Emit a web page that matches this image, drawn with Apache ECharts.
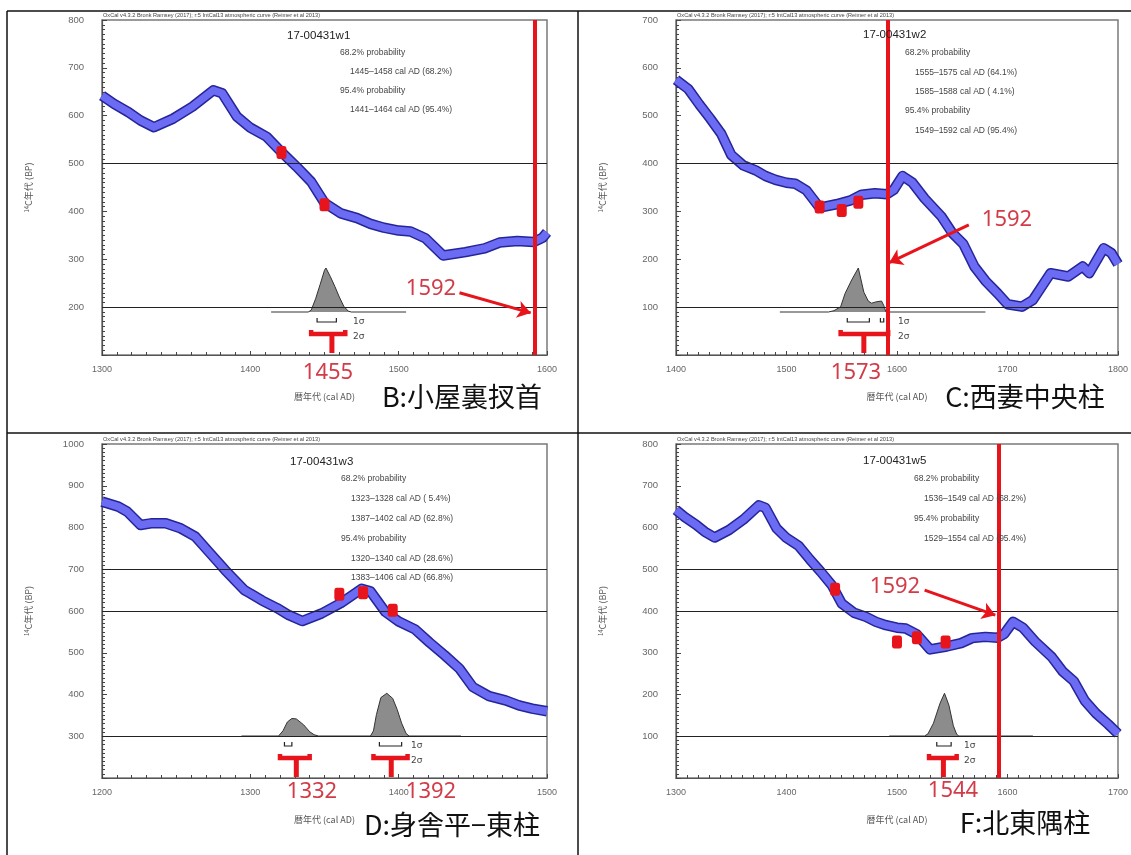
<!DOCTYPE html>
<html>
<head>
<meta charset="utf-8">
<script src="https://cdn.jsdelivr.net/npm/echarts@6/dist/echarts.min.js"></script>
<style>
  html, body { margin: 0; padding: 0; background: #fff; }
  #chart { width: 1131px; height: 855px; }
</style>
</head>
<body>
<div id="chart"></div>
<script>
// IntCal13 較正曲線 (西暦, 14C BP) — 図から読み取り
const calCurve = [
  [1200, 862], [1211, 850], [1217, 838], [1226, 806], [1233, 810], [1243, 810], [1253, 798],
  [1263, 778], [1273, 738], [1283, 698], [1296, 650], [1300, 642], [1308, 625], [1318, 607],
  [1326, 590], [1335, 576], [1348, 594], [1361, 619], [1375, 653], [1381, 647], [1391, 598],
  [1400, 575], [1411, 556], [1421, 524], [1431, 494], [1441, 462], [1450, 418], [1461, 396],
  [1472, 386], [1481, 374], [1490, 366], [1500, 360], [1508, 358], [1518, 344], [1530, 308],
  [1545, 315], [1558, 323], [1568, 335], [1580, 338], [1591, 336], [1597, 345], [1600, 356],
  [1605, 374], [1614, 360], [1625, 327], [1640, 290], [1650, 255], [1660, 232], [1670, 185],
  [1680, 155], [1691, 129], [1700, 106], [1713, 101], [1723, 115], [1739, 171], [1755, 164],
  [1768, 185], [1774, 171], [1787, 223], [1794, 213], [1800, 190]
]

// 測定点 (ウィグルマッチ)
const ptsB = [[1421, 523], [1450, 414]]
const ptsC = [[1530, 309], [1550, 302], [1565, 319]]
const ptsD = [[1360, 640], [1376, 644], [1396, 602]]
const ptsF = [[1444, 452], [1500, 326], [1518, 336], [1544, 326]]

// 確率分布 (相対値)
const probB = [[1414, 0], [1439, 0], [1441, 0.04], [1444, 0.3], [1447, 0.62], [1450, 0.95], [1451, 1],
  [1454, 0.8], [1457, 0.58], [1460, 0.34], [1463, 0.13], [1466, 0.02], [1468, 0], [1505, 0]]
const probC = [[1494, 0], [1538, 0], [1543, 0.03], [1549, 0.12], [1553, 0.42], [1559, 0.73], [1565, 1],
  [1570, 0.45], [1574, 0.25], [1577, 0.2], [1581, 0.23], [1586, 0.25], [1588, 0.15], [1590, 0], [1680, 0]]
const probD = [[1294, 0], [1319, 0], [1322, 0.12], [1325, 0.33], [1328, 0.41], [1331, 0.4], [1336, 0.26],
  [1340, 0.1], [1343, 0.03], [1346, 0], [1381, 0], [1383, 0.12], [1385, 0.5], [1388, 0.9], [1392, 1],
  [1396, 0.88], [1399, 0.62], [1402, 0.3], [1405, 0.06], [1407, 0], [1442, 0]]
const probF = [[1493, 0], [1525, 0], [1528, 0.05], [1533, 0.3], [1539, 0.77], [1543, 1], [1547, 0.72],
  [1551, 0.24], [1554, 0.04], [1556, 0], [1623, 0]]

// 1σ / 2σ 範囲
const sig1B = [[1445, 1458]]
const sig2B = [[1441, 1464]]
const sig1C = [[1555, 1575], [1585, 1588]]
const sig2C = [[1549, 1592]]
const sig1D = [[1323, 1328], [1387, 1402]]
const sig2D = [[1320, 1340], [1383, 1406]]
const sig1F = [[1536, 1549]]
const sig2F = [[1529, 1554]]
const stemB = [1455]
const stemC = [1570]
const stemD = [1331, 1395]
const stemF = [1542]

// 横線 (BP)
const hLinesB = [500, 200]
const hLinesC = [400, 100]
const hLinesD = [700, 600, 300]
const hLinesF = [500, 400, 100]

const felled = 1592
// 矢印 [始点, 終点]
const arrowB = [[1541, 230], [1589, 188]]
const arrowC = [[1665, 272], [1593, 193]]
const arrowF = [[1525, 450], [1589, 390]]

const labels = ['17-00431w1', '17-00431w2', '17-00431w3', '17-00431w5']
const infoB = ['68.2% probability', '1445–1458 cal AD (68.2%)', '95.4% probability', '1441–1464 cal AD (95.4%)']
const infoC = ['68.2% probability', '1555–1575 cal AD (64.1%)', '1585–1588 cal AD ( 4.1%)', '95.4% probability', '1549–1592 cal AD (95.4%)']
const infoD = ['68.2% probability', '1323–1328 cal AD ( 5.4%)', '1387–1402 cal AD (62.8%)', '95.4% probability',
  '1320–1340 cal AD (28.6%)', '1383–1406 cal AD (66.8%)']
const infoF = ['68.2% probability', '1536–1549 cal AD (68.2%)', '95.4% probability', '1529–1554 cal AD (95.4%)']
const titles = ['B:小屋裏扠首', 'C:西妻中央柱', 'D:身舎平−東柱', 'F:北東隅柱']
const header = 'OxCal v4.3.2 Bronk Ramsey (2017); r:5 IntCal13 atmospheric curve (Reimer et al 2013)'

const RED = '#e8141c'
const RED_TXT = '#d23c48'

const panels = [
  { left: 102, top: 20, h: 335, xMin: 1300, xMax: 1600, yMin: 100, yMax: 800, base: 312, unit: 44,
    pts: ptsB, prob: probB, sig1: sig1B, sig2: sig2B, stems: stemB, hLines: hLinesB, arrow: arrowB,
    info: infoB, lab: [287, 36], inf: [340, 53, 19], sigTxt: 353,
    years: [[328, 373, '1455']], felledTxt: [431, 289], title: [462, 397] },
  { left: 676, top: 20, h: 335, xMin: 1400, xMax: 1800, yMin: 0, yMax: 700, base: 312, unit: 44,
    pts: ptsC, prob: probC, sig1: sig1C, sig2: sig2C, stems: stemC, hLines: hLinesC, arrow: arrowC,
    info: infoC, lab: [863, 35], inf: [905, 53, 19.3], sigTxt: 898,
    years: [[856, 373, '1573']], felledTxt: [1007, 220], title: [1025, 397] },
  { left: 102, top: 444, h: 334, xMin: 1200, xMax: 1500, yMin: 200, yMax: 1000, base: 736, unit: 42.7,
    pts: ptsD, prob: probD, sig1: sig1D, sig2: sig2D, stems: stemD, hLines: hLinesD, arrow: null,
    info: infoD, lab: [290, 462], inf: [341, 479, 19.8], sigTxt: 411,
    years: [[312, 792, '1332'], [431, 792, '1392']], felledTxt: null, title: [452, 825] },
  { left: 676, top: 444, h: 334, xMin: 1300, xMax: 1700, yMin: 0, yMax: 800, base: 736, unit: 42.7,
    pts: ptsF, prob: probF, sig1: sig1F, sig2: sig2F, stems: stemF, hLines: hLinesF, arrow: arrowF,
    info: infoF, lab: [863, 461], inf: [914, 479, 20], sigTxt: 964,
    years: [[953, 791, '1544']], felledTxt: [895, 587], title: [1025, 823] }
]

function renderBracket(params, api) {
  const a = api.coord([api.value(0), 0])
  const b = api.coord([api.value(1), 0])
  const kind = api.value(2)
  if (kind === 1) {
    const y = a[1] + 10
    return { type: 'polyline', shape: { points: [[a[0], y - 4], [a[0], y], [b[0], y], [b[0], y - 4]] },
      style: { stroke: '#222', lineWidth: 1.2, fill: null } }
  }
  if (kind === 2) {
    const y = a[1] + 22
    return { type: 'polyline', shape: { points: [[a[0], y - 4], [a[0], y], [b[0], y], [b[0], y - 4]] },
      style: { stroke: RED, lineWidth: 4.5, fill: null } }
  }
  return { type: 'line', shape: { x1: a[0], y1: a[1] + 22, x2: a[0], y2: a[1] + 41 },
    style: { stroke: RED, lineWidth: 5 } }
}

const grid = [], xAxis = [], yAxis = [], series = [], graphic = []
const plain = v => String(v)

panels.forEach((p, i) => {
  grid.push({ left: p.left, top: p.top, width: 445, height: p.h, show: true,
    borderColor: '#7a7a7a', borderWidth: 1.5 })

  xAxis.push({
    type: 'value', gridIndex: i, min: p.xMin, max: p.xMax, interval: 100,
    axisLine: { show: true, onZero: false, lineStyle: { color: '#555', width: 1.2 } },
    axisTick: { show: true, inside: true, length: 4, lineStyle: { color: '#444' } },
    minorTick: { show: true, splitNumber: 10, length: 3, lineStyle: { color: '#444' } },
    splitLine: { show: false },
    axisLabel: { fontSize: 9, color: '#666', margin: 10, fontFamily: 'Liberation Sans', formatter: plain },
    name: '暦年代 (cal AD)', nameLocation: 'middle', nameGap: 37,
    nameTextStyle: { fontSize: 9, color: '#555', fontFamily: 'Noto Sans CJK JP' }
  })

  yAxis.push({
    type: 'value', gridIndex: i, min: p.yMin, max: p.yMax, interval: 100,
    axisLine: { show: true, lineStyle: { color: '#555', width: 1.2 } },
    axisTick: { show: true, inside: true, length: 5, lineStyle: { color: '#444' } },
    minorTick: { show: true, splitNumber: 10, length: 3, lineStyle: { color: '#444' } },
    splitLine: { show: false },
    axisLabel: { fontSize: 9.5, color: '#666', margin: 18, showMinLabel: false,
      fontFamily: 'Liberation Sans', formatter: plain },
    name: '{s|14}C年代 (BP)', nameLocation: 'middle', nameRotate: 90, nameGap: 68,
    nameTextStyle: { fontSize: 9, color: '#555', fontFamily: 'Noto Sans CJK JP',
      rich: { s: { fontSize: 6, color: '#555', verticalAlign: 'top', padding: [0, 0, 4, 0] } } }
  })
  yAxis.push({
    type: 'value', gridIndex: i, show: false, splitLine: { show: false },
    min: -(p.top + p.h - p.base) / p.unit, max: (p.base - p.top) / p.unit
  })

  const xi = i, yi = 2 * i, pi = 2 * i + 1
  const curve = calCurve.filter(d => d[0] >= p.xMin && d[0] <= p.xMax)

  series.push({
    type: 'line', xAxisIndex: xi, yAxisIndex: yi, data: curve, symbol: 'none', z: 2,
    lineStyle: { width: 10.5, color: '#25259a', join: 'round', cap: 'butt' },
    markLine: { silent: true, symbol: 'none', label: { show: false },
      lineStyle: { color: '#222', width: 1, type: 'solid' },
      data: p.hLines.map(v => ({ yAxis: v })) }
  })
  series.push({
    type: 'line', xAxisIndex: xi, yAxisIndex: yi, data: curve, symbol: 'none', z: 3,
    lineStyle: { width: 7.5, color: '#6b6bf3', join: 'round', cap: 'butt' }
  })
  series.push({
    type: 'line', xAxisIndex: xi, yAxisIndex: pi, data: p.prob, symbol: 'none', z: 4,
    lineStyle: { width: 1, color: '#333' },
    areaStyle: { color: '#8c8c8c', opacity: 1 }
  })
  const bracketData = []
  p.sig1.forEach(r => bracketData.push([r[0], r[1], 1]))
  p.sig2.forEach(r => bracketData.push([r[0], r[1], 2]))
  p.stems.forEach(y => bracketData.push([y, y, 3]))
  series.push({
    type: 'custom', xAxisIndex: xi, yAxisIndex: pi, data: bracketData, z: 6,
    encode: { x: [0, 1], y: 2 }, renderItem: renderBracket
  })

  const redLines = [{ xAxis: felled, lineStyle: { color: RED, width: 4, type: 'solid' } }]
  if (p.arrow) {
    redLines.push([
      { coord: p.arrow[0], symbol: 'none' },
      { coord: p.arrow[1], symbol: 'arrow', symbolSize: 13, lineStyle: { color: RED, width: 3, type: 'solid' } }
    ])
  }
  series.push({
    type: 'scatter', xAxisIndex: xi, yAxisIndex: yi, data: p.pts, z: 10,
    symbol: 'roundRect', symbolSize: [10, 13], itemStyle: { color: RED, opacity: 1 },
    markLine: { silent: true, symbol: 'none', label: { show: false },
      lineStyle: { color: RED, width: 3, type: 'solid' }, data: redLines }
  })

  // texts
  graphic.push({ type: 'text', left: p.left + 1, top: p.top - 8, z: 20,
    style: { text: header, fontSize: 5.6, fill: '#444', fontFamily: 'Liberation Sans' } })
  graphic.push({ type: 'text', x: p.lab[0], y: p.lab[1], z: 20,
    style: { text: labels[i], fontSize: 11.5, fill: '#222', fontFamily: 'Liberation Sans', verticalAlign: 'middle' } })
  p.info.forEach((t, k) => {
    const indent = /^\d{4}/.test(t) ? 10 : 0
    graphic.push({ type: 'text', x: p.inf[0] + indent, y: p.inf[1] + k * p.inf[2], z: 20,
      style: { text: t, fontSize: 8.5, fill: '#444', fontFamily: 'Liberation Sans', verticalAlign: 'middle' } })
  })
  graphic.push({ type: 'text', x: p.sigTxt, y: p.base + 10, z: 20,
    style: { text: '1σ', fontSize: 9, fill: '#444', fontFamily: 'DejaVu Sans', verticalAlign: 'middle' } })
  graphic.push({ type: 'text', x: p.sigTxt, y: p.base + 25, z: 20,
    style: { text: '2σ', fontSize: 9, fill: '#444', fontFamily: 'DejaVu Sans', verticalAlign: 'middle' } })
  p.years.forEach(yv => {
    graphic.push({ type: 'text', x: yv[0], y: yv[1], z: 20,
      style: { text: yv[2], fontSize: 22, fill: RED_TXT, fontFamily: 'Noto Sans', align: 'center', verticalAlign: 'middle' } })
  })
  if (p.felledTxt) {
    graphic.push({ type: 'text', x: p.felledTxt[0], y: p.felledTxt[1], z: 20,
      style: { text: String(felled), fontSize: 22, fill: RED_TXT, fontFamily: 'Noto Sans', align: 'center', verticalAlign: 'middle' } })
  }
  graphic.push({ type: 'text', x: p.title[0], y: p.title[1], z: 20,
    style: { text: titles[i], fontSize: 27, fill: '#111', fontFamily: 'Noto Sans CJK JP', align: 'center', verticalAlign: 'middle' } })
})

// 表の枠線
const frame = [[7, 11, 1131, 11], [7, 11, 7, 855], [578, 11, 578, 855], [7, 433, 1131, 433]]
frame.forEach(f => graphic.push({ type: 'line', z: 30,
  shape: { x1: f[0], y1: f[1], x2: f[2], y2: f[3] }, style: { stroke: '#111', lineWidth: 1.5 } }))

const myChart = echarts.init(document.getElementById('chart'))
myChart.setOption({
  animation: false,
  backgroundColor: '#fff',
  grid: grid,
  xAxis: xAxis,
  yAxis: yAxis,
  series: series,
  graphic: graphic
})
</script>
</body>
</html>
